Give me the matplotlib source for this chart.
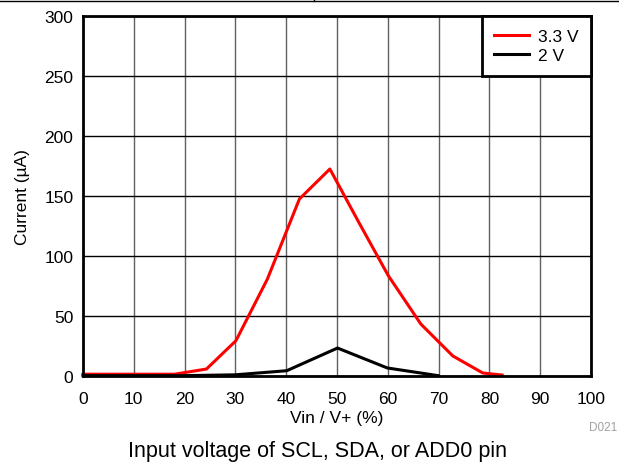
import matplotlib
matplotlib.use("Agg")
import matplotlib.pyplot as plt
from matplotlib.lines import Line2D

plt.rcParams['font.family'] = ['Liberation Sans', 'DejaVu Sans']

# Data
x_33 = [0, 6, 12, 18, 24.3, 30.1, 36.3, 42.6, 48.6, 54.3, 60.1, 66.5, 72.8, 78.7, 82.5]
y_33 = [1.5, 1.5, 1.5, 1.5, 5.8, 29.4, 80.8, 147.5, 172.5, 128, 83.6, 43.3, 16.7, 2.5, 0.8]
x_2 = [0, 10, 20, 30, 40.1, 50.1, 59.9, 69.9]
y_2 = [0.3, 0.3, 0.3, 1.0, 4.4, 23.3, 6.7, 0.3]
labels = ['3.3 V', '2 V']
xticks = list(range(0, 101, 10))
yticks = list(range(0, 301, 50))

FS = 12.5

fig = plt.figure(figsize=(6.19, 4.64), dpi=100)
ax = fig.add_axes([83/619, 1-377/464, (591-83)/619, (377-17)/464])

ax.plot(x_33, y_33, color='#ff0000', lw=2.2, label=labels[0], zorder=3, clip_on=False)
ax.plot(x_2, y_2, color='black', lw=2.2, label=labels[1], zorder=3, clip_on=False)

ax.set_xlim(0, 100)
ax.set_ylim(0, 300)
ax.set_xticks(xticks)
ax.set_yticks(yticks)
ax.tick_params(axis='x', length=0, labelsize=FS, pad=11)
ax.tick_params(axis='y', length=0, labelsize=FS, pad=7)
ax.grid(True, axis='x', color='#606060', lw=1)
ax.grid(True, axis='y', color='black', lw=1)
for s in ax.spines.values():
    s.set_linewidth(2)
    s.set_zorder(4)

ax.set_xlabel('Vin / V+ (%)', fontsize=FS, labelpad=3)
ax.set_ylabel('Current (µA)', fontsize=FS, labelpad=10)

leg = ax.legend(loc='upper right', fontsize=FS, fancybox=False, framealpha=1,
                edgecolor='black', borderaxespad=0, handlelength=2.0,
                borderpad=0.72, labelspacing=0.25, handletextpad=0.5)
leg.get_frame().set_linewidth(2)

fig.text(318/619, 1-452/464, 'Input voltage of SCL, SDA, or ADD0 pin', ha='center', va='center', fontsize=15.5)
fig.text(603/619, 1-428/464, 'D021', ha='center', va='center', fontsize=8.5, color='#a0a0a0')

# top border artifact
fig.add_artist(Line2D([0, 1], [1-2/464, 1-2/464], color='black', lw=1))
fig.add_artist(Line2D([314/619, 314/619], [1, 1-2/464], color='black', lw=1))

fig.savefig('out.png', dpi=100)
